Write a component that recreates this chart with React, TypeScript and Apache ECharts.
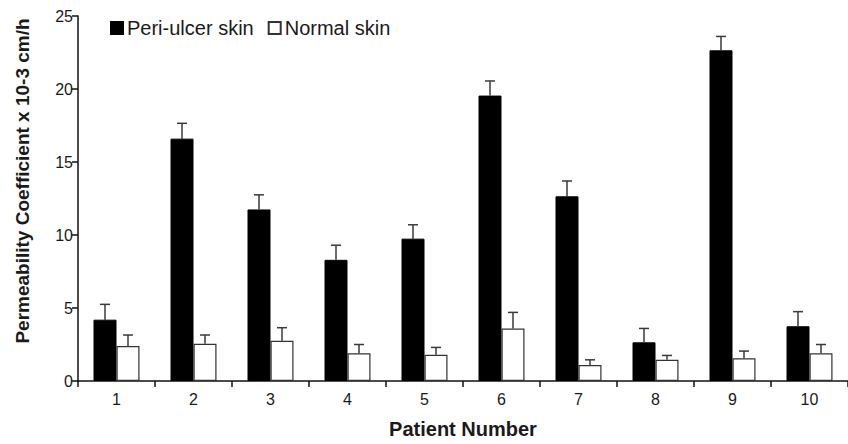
import React, { useEffect, useRef } from "react";
import * as echarts from "echarts";

const categories = ["1", "2", "3", "4", "5", "6", "7", "8", "9", "10"];
const periUlcer = [4.2, 16.6, 11.75, 8.3, 9.75, 19.55, 12.65, 2.65, 22.65, 3.75];
const periUlcerErr = [1.05, 1.05, 1.0, 1.0, 0.95, 1.0, 1.05, 0.95, 0.95, 1.0];
const normal = [2.4, 2.55, 2.75, 1.9, 1.8, 3.6, 1.1, 1.45, 1.55, 1.9];
const normalErr = [0.75, 0.6, 0.9, 0.6, 0.5, 1.1, 0.35, 0.3, 0.5, 0.6];
const yTicks = [0, 5, 10, 15, 20, 25];

const FONT = "'Liberation Sans', Arial, sans-serif";
const BAR_W = 23;

function errorSeries(values: number[], errs: number[], offset: number) {
  return {
    type: "custom",
    silent: true,
    z: 1,
    data: values.map((v, i) => [i, v, errs[i]]),
    encode: { x: 0, y: 1 },
    renderItem: (params: any, api: any) => {
      const idx = api.value(0);
      const v = api.value(1);
      const e = api.value(2);
      const base = api.coord([idx, v]);
      const top = api.coord([idx, v + e]);
      const x = base[0] + offset;
      const style = { stroke: "#3a3a3a", lineWidth: 1.5 };
      return {
        type: "group",
        children: [
          { type: "line", shape: { x1: x, y1: base[1], x2: x, y2: top[1] }, style },
          { type: "line", shape: { x1: x - 5, y1: top[1], x2: x + 5, y2: top[1] }, style },
        ],
      };
    },
  };
}

export default function App() {
  const ref = useRef<HTMLDivElement>(null);
  useEffect(() => {
    if (!ref.current) return;
    const chart = echarts.init(ref.current, null, { renderer: "svg" });
    chart.setOption({
      animation: false,
      backgroundColor: "#ffffff",
      textStyle: { fontFamily: FONT },
      legend: {
        data: ["Peri-ulcer skin", "Normal skin"],
        left: 110,
        top: 18,
        padding: 0,
        icon: "rect",
        itemWidth: 12,
        itemHeight: 12,
        itemGap: 14,
        textStyle: { fontFamily: FONT, fontSize: 20, color: "#1a1a1a", padding: [0, 0, 0, -1] },
      },
      grid: { left: 78, top: 16, width: 775.5, height: 365 },
      xAxis: {
        type: "category",
        data: categories,
        boundaryGap: true,
        name: "Patient Number",
        nameLocation: "middle",
        nameGap: 38,
        nameTextStyle: { fontFamily: FONT, fontSize: 20, fontWeight: "bold", color: "#1a1a1a" },
        axisLine: { lineStyle: { color: "#111", width: 1.5 } },
        axisTick: { show: true, length: 6, lineStyle: { color: "#111", width: 1.5 } },
        axisLabel: { fontFamily: FONT, fontSize: 16, color: "#1a1a1a", margin: 10 },
      },
      yAxis: {
        type: "value",
        min: 0,
        max: 25,
        interval: 5,
        splitLine: { show: false },
        axisLine: { show: true, lineStyle: { color: "#111", width: 1.5 } },
        axisTick: { show: true, length: 6, lineStyle: { color: "#111", width: 1.5 } },
        axisLabel: {
          fontFamily: FONT,
          fontSize: 16,
          color: "#1a1a1a",
          margin: 5,
          formatter: (v: number) => (yTicks.includes(v) ? String(v) : ""),
        },
      },
      graphic: [
        {
          type: "text",
          x: 22,
          y: 181,
          rotation: Math.PI / 2,
          style: {
            text: "Permeability Coefficient x 10-3 cm/h",
            fontFamily: FONT,
            fontSize: 19,
            fontWeight: "bold",
            fill: "#1a1a1a",
            textAlign: "center",
            textVerticalAlign: "middle",
          },
        },
      ],
      series: [
        {
          name: "Peri-ulcer skin",
          type: "bar",
          data: periUlcer,
          barWidth: BAR_W,
          barGap: "0%",
          itemStyle: { color: "#000000", borderColor: "#000000", borderWidth: 1 },
          z: 2,
        },
        {
          name: "Normal skin",
          type: "bar",
          data: normal,
          barWidth: BAR_W,
          barGap: "0%",
          itemStyle: { color: "#ffffff", borderColor: "#333333", borderWidth: 1.2 },
          z: 2,
        },
        errorSeries(periUlcer, periUlcerErr, -BAR_W / 2),
        errorSeries(normal, normalErr, BAR_W / 2),
      ],
    });
    return () => chart.dispose();
  }, []);
  return <div ref={ref} style={{ width: 848, height: 444, position: "absolute", left: 0, top: 0 }} />;
}
